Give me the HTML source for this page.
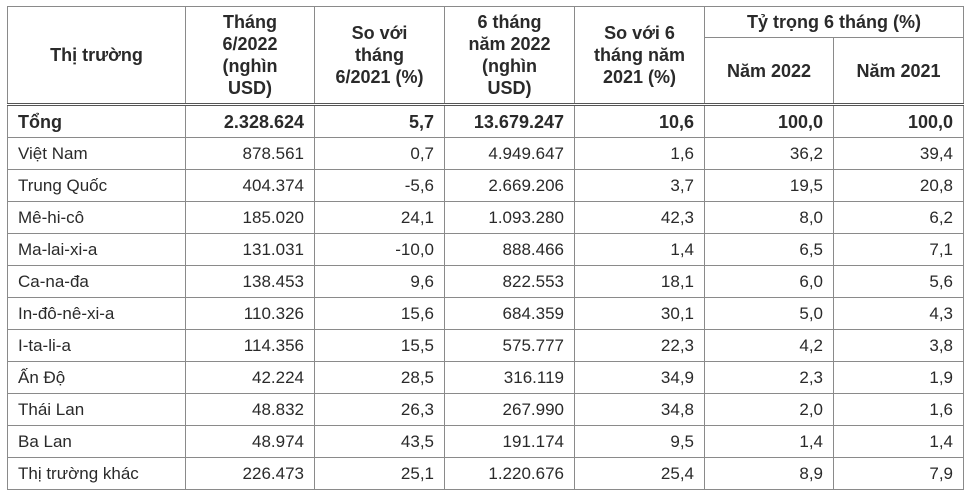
<!DOCTYPE html>
<html><head><meta charset="utf-8"><style>
html,body{margin:0;padding:0;background:#fff;width:975px;height:494px;overflow:hidden}
table{position:absolute;left:7px;top:6px;border-collapse:collapse;font-family:"Liberation Sans",sans-serif;color:#2a2a2a;font-size:17px;table-layout:fixed}
td,th{border:1.5px solid #8a8a8a;padding:0 10px;height:31px;line-height:20px}
th{font-weight:bold;text-align:center;font-size:18px;line-height:22px}
td{text-align:right}
td:first-child{text-align:left}
tr.b td{font-weight:bold;font-size:18px;border-top:3px double #555}
</style></head><body>
<table>
<colgroup><col style="width:178px"><col style="width:129px"><col style="width:130px"><col style="width:130px"><col style="width:130px"><col style="width:129px"><col style="width:130px"></colgroup>
<tr><th rowspan="2" style="height:96px">Thị trường</th><th rowspan="2">Tháng<br>6/2022<br>(nghìn<br>USD)</th><th rowspan="2">So với<br>tháng<br>6/2021 (%)</th><th rowspan="2">6 tháng<br>năm 2022<br>(nghìn<br>USD)</th><th rowspan="2">So với 6<br>tháng năm<br>2021 (%)</th><th colspan="2" style="height:30px">Tỷ trọng 6 tháng (%)</th></tr>
<tr><th style="height:64px">Năm 2022</th><th>Năm 2021</th></tr>
<tr class="b"><td>Tổng</td><td>2.328.624</td><td>5,7</td><td>13.679.247</td><td>10,6</td><td>100,0</td><td>100,0</td></tr>
<tr><td>Việt Nam</td><td>878.561</td><td>0,7</td><td>4.949.647</td><td>1,6</td><td>36,2</td><td>39,4</td></tr>
<tr><td>Trung Quốc</td><td>404.374</td><td>-5,6</td><td>2.669.206</td><td>3,7</td><td>19,5</td><td>20,8</td></tr>
<tr><td>Mê-hi-cô</td><td>185.020</td><td>24,1</td><td>1.093.280</td><td>42,3</td><td>8,0</td><td>6,2</td></tr>
<tr><td>Ma-lai-xi-a</td><td>131.031</td><td>-10,0</td><td>888.466</td><td>1,4</td><td>6,5</td><td>7,1</td></tr>
<tr><td>Ca-na-đa</td><td>138.453</td><td>9,6</td><td>822.553</td><td>18,1</td><td>6,0</td><td>5,6</td></tr>
<tr><td>In-đô-nê-xi-a</td><td>110.326</td><td>15,6</td><td>684.359</td><td>30,1</td><td>5,0</td><td>4,3</td></tr>
<tr><td>I-ta-li-a</td><td>114.356</td><td>15,5</td><td>575.777</td><td>22,3</td><td>4,2</td><td>3,8</td></tr>
<tr><td>Ấn Độ</td><td>42.224</td><td>28,5</td><td>316.119</td><td>34,9</td><td>2,3</td><td>1,9</td></tr>
<tr><td>Thái Lan</td><td>48.832</td><td>26,3</td><td>267.990</td><td>34,8</td><td>2,0</td><td>1,6</td></tr>
<tr><td>Ba Lan</td><td>48.974</td><td>43,5</td><td>191.174</td><td>9,5</td><td>1,4</td><td>1,4</td></tr>
<tr><td>Thị trường khác</td><td>226.473</td><td>25,1</td><td>1.220.676</td><td>25,4</td><td>8,9</td><td>7,9</td></tr>
</table>
</body></html>
